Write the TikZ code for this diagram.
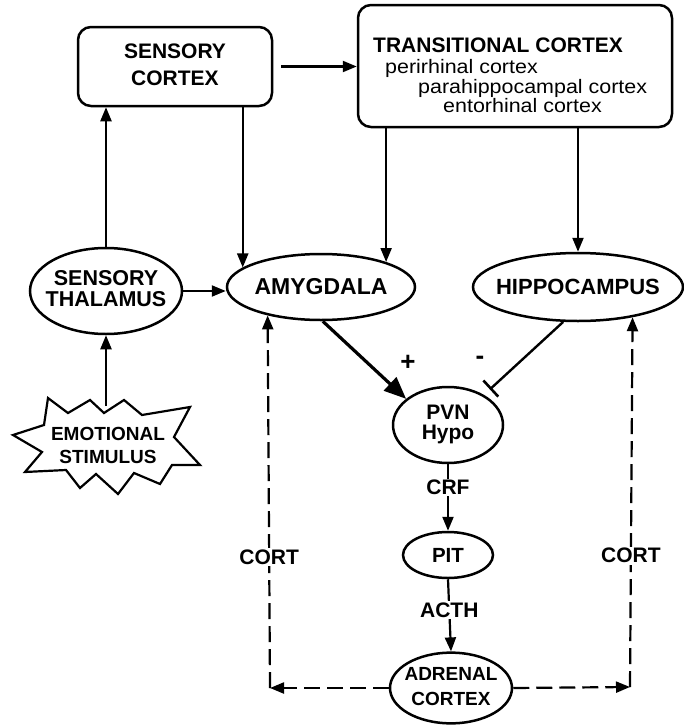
\documentclass[tikz,border=0pt]{standalone}
\usepackage{fontspec}
\setmainfont{Liberation Sans}
\newfontfamily\widesans[FakeStretch=1.1]{Liberation Sans}
\usetikzlibrary{arrows.meta,shapes.geometric}
\newcommand\lbl[3][21]{\makebox[0pt]{\fontsize{#1}{#2}\selectfont\bfseries\begin{tabular}{@{}c@{}}#3\end{tabular}}}
\newcommand\one[2][21]{\makebox[0pt]{\fontsize{#1}{24}\selectfont\bfseries #2}}
\begin{document}
\begin{tikzpicture}[x=1pt,y=-1pt,
  ell/.style={ellipse,draw,line width=2.5pt,inner sep=0pt},
  rbox/.style={draw,line width=2.5pt,rounded corners=13pt,inner sep=0pt},
  arr/.style={line width=2.2pt,-{Triangle[length=14pt,width=11pt]}},
  darr/.style={arr,dash pattern=on 16pt off 7pt},
  lab/.style={fill=white,inner sep=1.5pt,font={\fontsize{21}{24}\selectfont\bfseries}},
  sub/.style={anchor=base west,inner sep=0pt,font={\widesans\fontsize{19.5}{22}\selectfont}}]
\useasboundingbox (0,0) rectangle (684,726);

% boxes
\node[rbox,minimum width=194pt,minimum height=79pt] (sc) at (175,66.5) {\lbl{27}{SENSORY\\CORTEX}};
\node[rbox,minimum width=314pt,minimum height=122pt] (tc) at (515,66) {};
\node[anchor=base west,inner sep=0pt,font={\fontsize{21}{24}\selectfont\bfseries}] (tct) at (373,52) {TRANSITIONAL CORTEX};
\node[sub] (tc1) at (385,73) {perirhinal cortex};
\node[sub] (tc2) at (418,93) {parahippocampal cortex};
\node[sub] (tc3) at (443,112) {entorhinal cortex};

% ellipses
\node[ell,minimum width=152pt,minimum height=86pt] (th) at (106,291) {\lbl[21.5]{20}{SENSORY\\THALAMUS}};
\node[ell,minimum width=188pt,minimum height=66pt] (am) at (321,287) {\one[23]{AMYGDALA}};
\node[ell,minimum width=210pt,minimum height=68pt] (hi) at (578,287) {\one[22]{HIPPOCAMPUS}};
\node[ell,minimum width=110pt,minimum height=76pt] (pvn) at (448,425) {\lbl[21]{20}{PVN\\Hypo}};
\node[ell,minimum width=90pt,minimum height=46pt] (pit) at (448,555) {\one[20.5]{PIT}};
\node[ell,minimum width=122pt,minimum height=70pt] (ad) at (451,688) {\lbl[19]{25}{ADRENAL\\CORTEX}};

% star
\draw[line width=2.2pt,line join=miter,miter limit=20]
  (48,398) -- (68,413) -- (90,400) -- (104,413) -- (124,400) -- (142,415) --
  (190,407) -- (174,437) -- (200,465) -- (172,465) -- (160,484) -- (134,473) --
  (118,494) -- (96,474) -- (80,488) -- (66,470) -- (25,472) -- (42,452) --
  (13,435) -- (44,425) -- cycle;
\node (em) at (108,447) {\lbl[19]{23}{EMOTIONAL\\STIMULUS}};
\coordinate (emtop) at (106,406);

% connectors
\draw[arr] (emtop) -- (th.south);
\draw[arr] (th.north) -- (th.north |- sc.south);
\draw[arr] ([xshift=8pt]sc.east) -- (tc.west |- sc.east);
\draw[arr] (sc.south -| am.166.7) -- (am.166.7);
\draw[arr] (tc.south -| am.21.8) -- (am.21.8);
\draw[arr] (tc.south -| hi.north) -- (hi.north);
\draw[arr] (th.east) -- (th.east -| am.west);
\draw[line width=3.2pt,-{Triangle[length=22pt,width=18pt]}] (am.-87) -- (pvn.148);
\draw[line width=2.4pt,-{Bar[width=22pt,line width=2.6pt]},shorten >=8pt] (hi.-113) -- (pvn.40);
\node[font={\fontsize{26}{26}\selectfont\bfseries}] (plus) at (408,363) {+};
\node[font={\fontsize{26}{26}\selectfont\bfseries}] (minus) at (480,360) {-};
\draw[arr] (pvn.south) -- node[lab,pos=0.35] (crf) {CRF} (pit.north);
\draw[arr] (pit.south) -- node[lab,pos=0.43] (acth) {ACTH} (ad.north);

% cortisol feedback
\coordinate (cl) at (270,688);
\coordinate (cr) at (630,687);
\draw[darr] (ad.west) -- (cl);
\draw[darr] (ad.east) -- (cr);
\draw[darr] (cl) -- node[lab,pos=0.351] (cortl) {CORT} (am.208.5);
\draw[darr] (cr) -- node[lab,pos=0.355] (cortr) {CORT} (hi.-29.6);
\end{tikzpicture}
\end{document}
